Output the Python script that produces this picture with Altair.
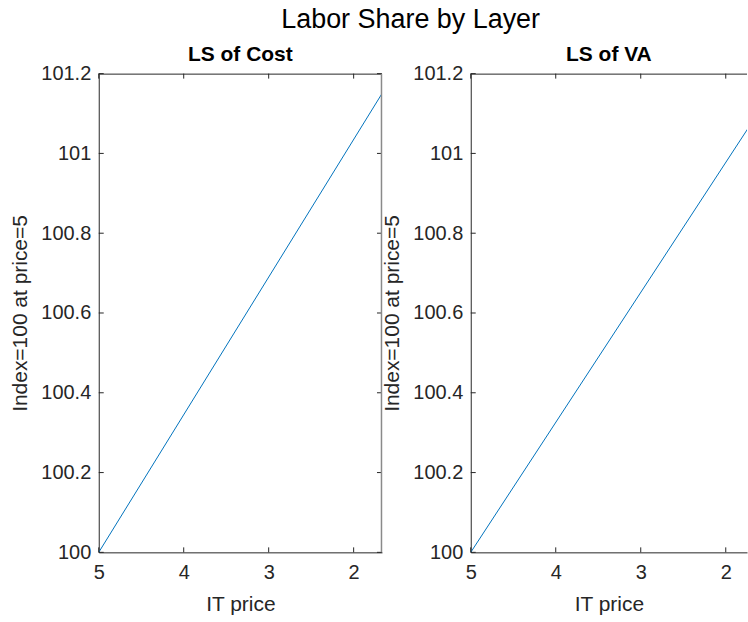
import altair as alt
import pandas as pd

# ---- data ----
price = [5.0, 5.0 / 3.0]
ls_cost = [100.0, 101.15]
ls_va = [100.0, 101.086]
x_ticks = [2, 3, 4, 5]
y_ticks = [100, 100.2, 100.4, 100.6, 100.8, 101, 101.2]

FONT = "Liberation Sans"
AX = "#262626"
H = 480
TL = 5  # inward tick length


def panel(title, series, xmin, width, right_border):
    df = pd.DataFrame({"price": price, "value": series})
    xs = alt.Scale(domain=[xmin, 5], reverse=True, nice=False, zero=False)
    ys = alt.Scale(domain=[100, 101.2], nice=False, zero=False)
    xax = alt.Axis(values=x_ticks, title="IT price", labelPadding=10,
                   titlePadding=11, format="d", labelFlush=False)
    yax = alt.Axis(values=y_ticks, title="Index=100 at price=5",
                   labelPadding=8, titlePadding=10, format="~g", labelFlush=False)
    line = alt.Chart(df).mark_line(color="#0072BD", strokeWidth=1, clip=True).encode(
        x=alt.X("price:Q", scale=xs, axis=xax),
        y=alt.Y("value:Q", scale=ys, axis=yax),
    )
    xt = pd.DataFrame({"t": x_ticks})
    yt = pd.DataFrame({"t": y_ticks})
    one = pd.DataFrame({"a": [0]})
    rule = dict(color=AX, strokeWidth=1)
    layers = [line]
    layers.append(alt.Chart(xt).mark_rule(**rule).encode(
        x=alt.X("t:Q", scale=xs, axis=xax), y=alt.value(H), y2=alt.value(H - TL)))
    layers.append(alt.Chart(xt).mark_rule(**rule).encode(
        x=alt.X("t:Q", scale=xs, axis=xax), y=alt.value(0), y2=alt.value(TL)))
    layers.append(alt.Chart(yt).mark_rule(**rule).encode(
        y=alt.Y("t:Q", scale=ys, axis=yax), x=alt.value(0), x2=alt.value(TL)))
    layers.append(alt.Chart(one).mark_rule(**rule).encode(
        x=alt.value(0), x2=alt.value(width), y=alt.value(0.5)))
    if right_border:
        layers.append(alt.Chart(yt).mark_rule(**rule).encode(
            y=alt.Y("t:Q", scale=ys, axis=yax), x=alt.value(width - TL), x2=alt.value(width)))
        layers.append(alt.Chart(one).mark_rule(color="#8a8a8a", strokeWidth=1.5).encode(
            x=alt.value(width - 0.5), y=alt.value(0), y2=alt.value(H)))
    return alt.layer(*layers).properties(
        width=width, height=H,
        title=alt.TitleParams(title, fontSize=21, fontWeight="bold", font=FONT,
                              color="black", offset=-1.5),
    )


left = panel("LS of Cost", ls_cost, 5.0 / 3.0, 284, True)
right = panel("LS of VA", ls_va, 1.75, 277, False)

chart = alt.hconcat(left, right, spacing=89, bounds="flush").properties(
    title=alt.TitleParams("Labor Share by Layer", fontSize=27, fontWeight="normal",
                          font=FONT, color="black", anchor="middle", dx=32, offset=10),
    padding={"left": 9, "top": 5, "right": 0, "bottom": 5},
).configure_view(stroke=None).configure_axis(
    domainColor=AX, domainWidth=1, labelColor=AX, titleColor=AX,
    labelFont=FONT, titleFont=FONT, labelFontSize=20, titleFontSize=21,
    titleFontWeight="normal", grid=False, ticks=False, tickSize=0,
)

chart.save("out.html", embed_options={"renderer": "svg", "actions": False})
